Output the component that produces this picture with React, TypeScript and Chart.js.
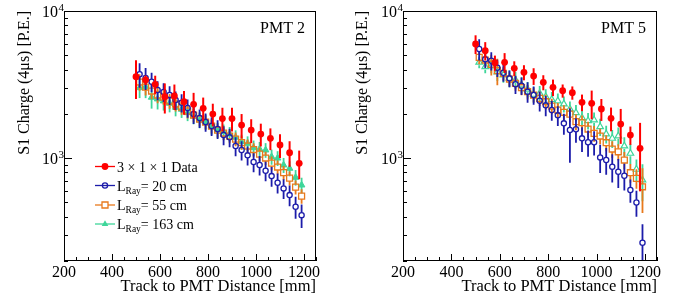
import React, { useEffect, useRef } from "react";
import { Chart, registerables } from "chart.js";
Chart.register(...registerables);

const FONT = "'Liberation Serif', 'Times New Roman', Times, serif";

const DATA_X = [500, 540, 580, 620, 660, 700, 740, 780, 820, 860, 900, 940, 980, 1020, 1060, 1100, 1140, 1180];
const SIM_X = [515, 540, 565, 590, 615, 640, 665, 690, 715, 740, 765, 790, 815, 840, 865, 890, 915, 940, 965, 990, 1015, 1040, 1065, 1090, 1115, 1140, 1165, 1190];

const X_TICKS = [200, 250, 300, 350, 400, 450, 500, 550, 600, 650, 700, 750, 800, 850, 900, 950, 1000, 1050, 1100, 1150, 1200, 1250];
const X_LABELS = [200, 400, 600, 800, 1000, 1200];
const Y_MINOR_TICKS = [200, 300, 400, 500, 600, 700, 800, 900, 2000, 3000, 4000, 5000, 6000, 7000, 8000, 9000];
const Y_MAJOR_TICKS = [1000, 10000];
const Y_LABEL_BASE = ["10", "10"];
const Y_LABEL_EXP = ["3", "4"];

const SERIES_NAMES = ["3 \u00d7 1 \u00d7 1 Data", "20 cm", "55 cm", "163 cm"];

// PMT 2
const PMT2_DATA = [3575, 3396, 3176, 2615, 2644, 2418, 2321, 2180, 1994, 1858, 1858, 1679, 1552, 1458, 1363, 1228, 1088, 922];
const PMT2_DATA_ERR = [1047, 250, 457, 605, 520, 444, 457, 400, 350, 342, 342, 315, 286, 257, 230, 226, 215, 203];
const PMT2_L20 = [3713, 3504, 3307, 2904, 2814, 2685, 2483, 2380, 2191, 1994, 1873, 1760, 1653, 1577, 1435, 1385, 1209, 1135, 1045, 941, 898, 821, 755, 681, 623, 561, 467, 410];
const PMT2_L20_ERR = [700, 600, 500, 430, 410, 390, 360, 340, 310, 290, 270, 250, 240, 230, 210, 200, 180, 170, 155, 140, 135, 125, 115, 105, 95, 90, 80, 75];
const PMT2_L55 = [3291, 3043, 2859, 2685, 2603, 2445, 2333, 2225, 2090, 1963, 1844, 1760, 1653, 1552, 1481, 1413, 1348, 1276, 1209, 1144, 1066, 1002, 926, 870, 798, 732, 636, 552];
const PMT2_L55_ERR = [420, 380, 350, 320, 300, 280, 260, 250, 230, 215, 200, 190, 180, 170, 160, 150, 145, 135, 130, 120, 115, 105, 100, 95, 85, 80, 70, 62];
const PMT2_L163 = [3010, 3058, 2590, 2522, 2445, 2358, 2214, 2146, 2035, 1933, 1816, 1768, 1635, 1552, 1512, 1458, 1385, 1293, 1261, 1177, 1153, 1135, 1022, 1000, 898, 852, 740, 656];
const PMT2_L163_ERR = [450, 500, 420, 380, 340, 310, 290, 270, 250, 235, 220, 210, 195, 185, 180, 170, 160, 150, 145, 140, 135, 130, 120, 115, 105, 100, 90, 80];

// PMT 5
const PMT5_DATA = [5967, 5373, 4451, 4480, 4079, 3831, 3614, 3276, 3029, 2872, 2783, 2395, 2358, 2157, 1865, 1705, 1435, 1166];
const PMT5_DATA_ERR = [870, 770, 525, 693, 473, 450, 470, 384, 390, 295, 288, 309, 520, 367, 342, 455, 204, 571];
const PMT5_L20 = [5517, 4695, 4593, 4117, 3807, 3487, 3176, 3106, 2827, 2685, 2456, 2285, 2123, 1954, 1724, 1552, 1570, 1363, 1281, 1281, 1012, 971, 874, 808, 759, 607, 500, 266];
const PMT5_L20_ERR = [900, 600, 650, 550, 500, 450, 450, 420, 450, 380, 380, 360, 330, 300, 280, 620, 300, 260, 258, 240, 220, 200, 190, 180, 157, 110, 100, 90];
const PMT5_L55 = [4844, 4644, 4343, 3929, 3771, 3449, 3225, 3010, 2827, 2685, 2550, 2418, 2261, 2123, 2050, 1990, 1768, 1740, 1577, 1474, 1413, 1273, 1153, 1105, 971, 796, 729, 639];
const PMT5_L55_ERR = [500, 450, 700, 800, 400, 380, 350, 330, 320, 300, 290, 280, 270, 250, 240, 230, 220, 210, 190, 180, 170, 160, 150, 140, 130, 115, 110, 215];
const PMT5_L163 = [4480, 4182, 4228, 3848, 3672, 3487, 3396, 3140, 2936, 2714, 2757, 2615, 2500, 2450, 2333, 2157, 2035, 1882, 1796, 1816, 1635, 1458, 1363, 1413, 1209, 1078, 839, 710];
const PMT5_L163_ERR = [400, 400, 450, 500, 420, 450, 450, 400, 350, 330, 330, 320, 310, 300, 290, 270, 260, 240, 230, 230, 220, 200, 190, 200, 180, 170, 140, 200];

const RED = "#ff0000";
const BLUE = "#1c1caa";
const ORANGE = "#e8791c";
const GREEN = "#3ed69a";

type PanelDef = {
  label: string;
  data: number[]; dataErr: number[];
  l20: number[]; l20Err: number[];
  l55: number[]; l55Err: number[];
  l163: number[]; l163Err: number[];
  legend: boolean;
  padRight: number;
  titlePad: number;
  greenHollow: boolean;
};

const PANELS: PanelDef[] = [
  { label: "PMT 2", data: PMT2_DATA, dataErr: PMT2_DATA_ERR, l20: PMT2_L20, l20Err: PMT2_L20_ERR, l55: PMT2_L55, l55Err: PMT2_L55_ERR, l163: PMT2_L163, l163Err: PMT2_L163_ERR, legend: true, padRight: 23, titlePad: 15, greenHollow: false },
  { label: "PMT 5", data: PMT5_DATA, dataErr: PMT5_DATA_ERR, l20: PMT5_L20, l20Err: PMT5_L20_ERR, l55: PMT5_L55, l55Err: PMT5_L55_ERR, l163: PMT5_L163, l163Err: PMT5_L163_ERR, legend: false, padRight: 21, titlePad: 14, greenHollow: true },
];

function drawMarker(ctx: CanvasRenderingContext2D, kind: string, x: number, y: number, color: string) {
  ctx.save();
  ctx.strokeStyle = color;
  ctx.fillStyle = color;
  ctx.lineWidth = 1.3;
  ctx.beginPath();
  if (kind === "dot") {
    ctx.arc(x, y, 3.4, 0, Math.PI * 2);
    ctx.fill();
  } else if (kind === "ocircle") {
    ctx.arc(x, y, 2.6, 0, Math.PI * 2);
    ctx.stroke();
  } else if (kind === "osquare") {
    ctx.fillStyle = "#fff";
    ctx.rect(x - 3, y - 3, 6, 6);
    ctx.fill();
    ctx.stroke();
  } else {
    ctx.moveTo(x, y - 3.8);
    ctx.lineTo(x + 3.3, y + 1.9);
    ctx.lineTo(x - 3.3, y + 1.9);
    ctx.closePath();
    ctx.fill();
  }
  ctx.restore();
}

function makeDecor(p: PanelDef) {
  return {
    id: "decor",
    beforeDatasetDraw(chart: any, args: any) {
      const ds = chart.data.datasets[args.index];
      const errs: number[] = ds.errors;
      if (!errs) return;
      const { ctx, chartArea } = chart;
      const xs = chart.scales.x;
      const ys = chart.scales.y;
      ctx.save();
      ctx.beginPath();
      ctx.rect(chartArea.left, chartArea.top, chartArea.right - chartArea.left, chartArea.bottom - chartArea.top);
      ctx.clip();
      ctx.strokeStyle = ds.errColor;
      ctx.lineWidth = ds.errWidth;
      ds.data.forEach((pt: any, i: number) => {
        const e = errs[i];
        const px = xs.getPixelForValue(pt.x);
        const py = ys.getPixelForValue(pt.y);
        const yHi = ys.getPixelForValue(pt.y + e);
        const lo = pt.y - e;
        const yLo = lo > 0 ? ys.getPixelForValue(lo) : chartArea.bottom + 20;
        const g = ds.errGap || 0;
        ctx.beginPath();
        if (g > 0) {
          ctx.moveTo(px, yHi);
          ctx.lineTo(px, py - g);
          ctx.moveTo(px, py + g);
          ctx.lineTo(px, yLo);
        } else {
          ctx.moveTo(px, yHi);
          ctx.lineTo(px, yLo);
        }
        ctx.stroke();
      });
      ctx.restore();
    },
    afterDraw(chart: any) {
      const { ctx, chartArea } = chart;
      const { left, right, top, bottom } = chartArea;
      const xs = chart.scales.x;
      const ys = chart.scales.y;
      ctx.save();
      ctx.strokeStyle = "#000";
      ctx.lineWidth = 1;
      ctx.strokeRect(left + 0.5, top + 0.5, right - left - 1, bottom - top - 1);
      ctx.beginPath();
      X_TICKS.forEach((v) => {
        const px = Math.round(xs.getPixelForValue(v)) + 0.5;
        const len = X_LABELS.includes(v) ? 7 : 4;
        ctx.moveTo(px, bottom);
        ctx.lineTo(px, bottom - len);
      });
      Y_MINOR_TICKS.forEach((v) => {
        const py = Math.round(ys.getPixelForValue(v)) + 0.5;
        ctx.moveTo(left, py);
        ctx.lineTo(left + 4, py);
      });
      Y_MAJOR_TICKS.forEach((v) => {
        const py = Math.round(ys.getPixelForValue(v)) + 0.5;
        ctx.moveTo(left, py);
        ctx.lineTo(left + 8, py);
      });
      ctx.stroke();

      ctx.fillStyle = "#000";
      Y_MAJOR_TICKS.forEach((v, i) => {
        const py = ys.getPixelForValue(v);
        ctx.font = `16px ${FONT}`;
        ctx.textAlign = "right";
        ctx.textBaseline = "alphabetic";
        ctx.fillText(Y_LABEL_BASE[i], left - 6, py + 5.5);
        ctx.font = `11px ${FONT}`;
        ctx.textAlign = "left";
        ctx.fillText(Y_LABEL_EXP[i], left - 5.5, py - 0.5);
      });

      ctx.font = `16px ${FONT}`;
      ctx.textAlign = "right";
      ctx.textBaseline = "alphabetic";
      ctx.fillText(p.label, right - 11, top + 22);

      if (p.legend) {
        const rows = [
          { kind: "dot", color: RED, y: 166.5 },
          { kind: "ocircle", color: BLUE, y: 185.5 },
          { kind: "osquare", color: ORANGE, y: 205 },
          { kind: "tri", color: GREEN, y: 224 },
        ];
        rows.forEach((r, i) => {
          ctx.strokeStyle = r.color;
          ctx.lineWidth = 1.3;
          ctx.beginPath();
          ctx.moveTo(95, r.y);
          ctx.lineTo(115, r.y);
          ctx.stroke();
          drawMarker(ctx, r.kind, 105, r.y, r.color);
          ctx.fillStyle = "#000";
          ctx.textAlign = "left";
          ctx.textBaseline = "alphabetic";
          const base = r.y + 5;
          if (i === 0) {
            ctx.font = `14px ${FONT}`;
            ctx.fillText(SERIES_NAMES[0], 117, base);
          } else {
            let x = 117;
            ctx.font = `14px ${FONT}`;
            ctx.fillText("L", x, base);
            x += ctx.measureText("L").width;
            ctx.font = `9.5px ${FONT}`;
            ctx.fillText("Ray", x, base + 3);
            x += ctx.measureText("Ray").width;
            ctx.font = `14px ${FONT}`;
            ctx.fillText("= " + SERIES_NAMES[i], x, base);
          }
        });
      }
      ctx.restore();
    },
  };
}

function makeConfig(p: PanelDef): any {
  const pts = (xs: number[], ys: number[]) => xs.map((x, i) => ({ x, y: ys[i] }));
  return {
    type: "scatter",
    data: {
      datasets: [
        { label: SERIES_NAMES[0], data: pts(DATA_X, p.data), errors: p.dataErr, errColor: RED, errWidth: 2, errGap: 0,
          pointStyle: "circle", pointRadius: 3.4, pointBackgroundColor: RED, pointBorderColor: RED, pointBorderWidth: 0 },
        { label: SERIES_NAMES[1], data: pts(SIM_X, p.l20), errors: p.l20Err, errColor: BLUE, errWidth: 1.8, errGap: 2.6,
          pointStyle: "circle", pointRadius: 2.6, pointBackgroundColor: "rgba(0,0,0,0)", pointBorderColor: BLUE, pointBorderWidth: 1.3 },
        { label: SERIES_NAMES[2], data: pts(SIM_X, p.l55), errors: p.l55Err, errColor: ORANGE, errWidth: 1.8, errGap: 3,
          pointStyle: "rect", pointRadius: 4.2, pointBackgroundColor: "rgba(0,0,0,0)", pointBorderColor: ORANGE, pointBorderWidth: 1.3 },
        { label: SERIES_NAMES[3], data: pts(SIM_X, p.l163), errors: p.l163Err, errColor: GREEN, errWidth: 1.8, errGap: p.greenHollow ? 3 : 0,
          pointStyle: "triangle", pointRadius: 3.8, pointBackgroundColor: p.greenHollow ? "rgba(0,0,0,0)" : GREEN, pointBorderColor: GREEN, pointBorderWidth: p.greenHollow ? 1.2 : 1 },
      ],
    },
    options: {
      animation: false,
      responsive: false,
      devicePixelRatio: 1,
      layout: { padding: { top: 11, right: p.padRight, left: 0, bottom: 0 } },
      plugins: { legend: { display: false }, tooltip: { enabled: false }, title: { display: false } },
      scales: {
        x: {
          type: "linear",
          min: 200,
          max: 1250,
          afterFit: (s: any) => { s.height = 42; },
          afterBuildTicks: (s: any) => { s.ticks = X_TICKS.map((v) => ({ value: v })); },
          ticks: {
            autoSkip: false,
            maxRotation: 0,
            minRotation: 0,
            padding: 2,
            color: "#000",
            font: { family: FONT, size: 16 },
            callback: (v: any) => (X_LABELS.includes(Number(v)) ? String(v) : ""),
          },
          grid: { display: false, drawTicks: false },
          border: { display: false },
          title: {
            display: true,
            text: "Track to PMT Distance [mm]",
            align: "end",
            color: "#000",
            font: { family: FONT, size: 16.5 },
            padding: { top: 0, bottom: 6 },
          },
        },
        y: {
          type: "logarithmic",
          min: 200,
          max: 10000,
          afterFit: (s: any) => { s.width = 64; },
          ticks: { display: false },
          grid: { display: false, drawTicks: false },
          border: { display: false },
          title: {
            display: true,
            text: "S1 Charge (4\u03bcs) [P.E.]",
            align: "end",
            color: "#000",
            font: { family: FONT, size: 16 },
            padding: { top: p.titlePad, bottom: 0 },
          },
        },
      },
    },
    plugins: [makeDecor(p)],
  };
}

function Panel({ p, left }: { p: PanelDef; left: number }) {
  const ref = useRef<HTMLCanvasElement | null>(null);
  useEffect(() => {
    if (!ref.current) return;
    const chart = new Chart(ref.current, makeConfig(p));
    return () => chart.destroy();
  }, [p]);
  return (
    <canvas
      ref={ref}
      width={339}
      height={303}
      style={{ position: "absolute", left, top: 0, width: 339, height: 303 }}
    />
  );
}

export default function App() {
  return (
    <div style={{ position: "absolute", left: 0, top: 0, width: 678, height: 303, background: "#fff", overflow: "hidden" }}>
      <Panel p={PANELS[0]} left={0} />
      <Panel p={PANELS[1]} left={339} />
    </div>
  );
}
